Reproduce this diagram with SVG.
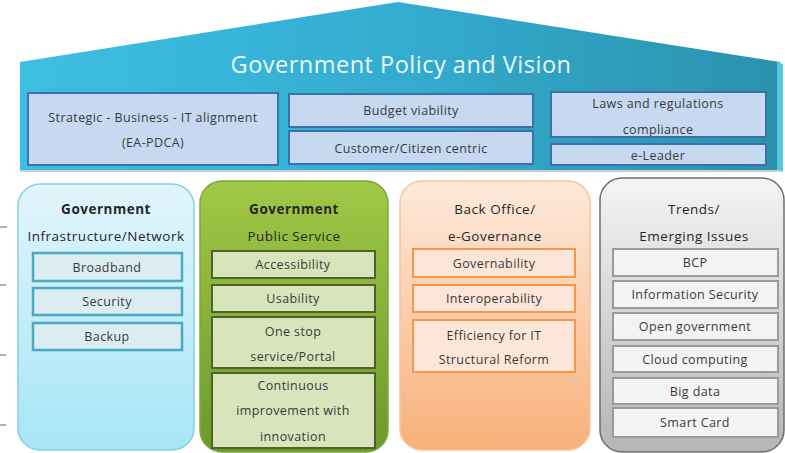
<svg xmlns="http://www.w3.org/2000/svg" width="785" height="453" viewBox="0 0 785 453">
<defs>
<linearGradient id="roofG" x1="0" y1="0" x2="1" y2="0">
<stop offset="0" stop-color="#3cbfe2"/><stop offset="0.5" stop-color="#34acd0"/><stop offset="1" stop-color="#2a92ab"/>
</linearGradient>
<linearGradient id="p1G" x1="0" y1="0" x2="0" y2="1"><stop offset="0" stop-color="#e2f5fb"/><stop offset="1" stop-color="#a6e5f7"/></linearGradient>
<linearGradient id="p2G" x1="0" y1="0" x2="0" y2="1"><stop offset="0" stop-color="#a0c847"/><stop offset="1" stop-color="#6a9a2a"/></linearGradient>
<linearGradient id="p3G" x1="0" y1="0" x2="0" y2="1"><stop offset="0" stop-color="#fdeadb"/><stop offset="1" stop-color="#f8b07a"/></linearGradient>
<linearGradient id="p4G" x1="0" y1="0" x2="0" y2="1"><stop offset="0" stop-color="#f4f4f4"/><stop offset="1" stop-color="#b5b5b5"/></linearGradient>
</defs>
<style>
text{font-family:"Open Sans","Liberation Sans",sans-serif;text-anchor:middle;fill:#3a3a3a;font-size:12.5px;letter-spacing:0.4px}
.title{fill:#eaf7fb;font-size:23.5px;letter-spacing:0.5px}
.hd{fill:#262626;font-size:13.5px;letter-spacing:0.5px}
.rb{fill:#c6d9f1;stroke:#3d6fae;stroke-width:2}
.b1{fill:#dcedf2;stroke:#4aa9c4;stroke-width:2.5}
.b2{fill:#d8e4bc;stroke:#4f6228;stroke-width:2}
.b3{fill:#fce6d8;stroke:#f7964a;stroke-width:2}
.b4{fill:#f3f3f3;stroke:#9a9a9a;stroke-width:2}
.tick{stroke:#9a9a9a;stroke-width:1.5}
</style>
<rect width="785" height="453" fill="#ffffff"/>
<g id="ticks">
<line class="tick" x1="0" y1="227" x2="7" y2="227" stroke="#333"/>
<line class="tick" x1="0" y1="285" x2="6" y2="285"/>
<line class="tick" x1="0" y1="355" x2="6" y2="355"/>
<line class="tick" x1="0" y1="425" x2="6" y2="425"/>
</g>
<g id="roof">
<polygon points="20,62 398,2 780,62 780,170 20,170" fill="url(#roofG)"/>
<polygon points="777,62 783,64 783,172 777,170" fill="#5cc8e0"/>
<line x1="20" y1="171" x2="780" y2="171" stroke="#bdbdbd" stroke-width="1.5"/>
<text class="title" x="401" y="73">Government Policy and Vision</text>
</g>
<g id="roof-strategic">
<rect class="rb" x="28" y="93" width="250" height="72"/>
<text x="153" y="122">Strategic -  Business - IT alignment</text>
<text x="153" y="147">(EA-PDCA)</text>
</g>
<g id="roof-budget">
<rect class="rb" x="289" y="94" width="244" height="33"/>
<text x="411" y="115">Budget viability</text>
</g>
<g id="roof-customer">
<rect class="rb" x="289" y="131" width="244" height="33"/>
<text x="411" y="153">Customer/Citizen centric</text>
</g>
<g id="roof-laws">
<rect class="rb" x="551" y="92" width="215" height="45"/>
<text x="658" y="108">Laws and regulations</text>
<text x="658" y="134">compliance</text>
</g>
<g id="roof-eleader">
<rect class="rb" x="551" y="144" width="215" height="21"/>
<text x="658" y="160">e-Leader</text>
</g>
<g id="pillar-infra">
<rect x="18" y="184" width="176" height="266" rx="22" fill="url(#p1G)" stroke="#86cfe6" stroke-width="1.5"/>
<text class="hd" x="106" y="214" font-weight="bold">Government</text>
<text class="hd" x="106" y="241">Infrastructure/Network</text>
<rect class="b1" x="33" y="253" width="149" height="28"/><text x="107" y="272">Broadband</text>
<rect class="b1" x="33" y="288" width="149" height="27"/><text x="107" y="306">Security</text>
<rect class="b1" x="33" y="323" width="149" height="27"/><text x="107" y="341">Backup</text>
</g>
<g id="pillar-public">
<rect x="200" y="181" width="188" height="271" rx="22" fill="url(#p2G)" stroke="#7ea83c" stroke-width="1.5"/>
<text class="hd" x="294" y="214" font-weight="bold">Government</text>
<text class="hd" x="294" y="241">Public Service</text>
<rect class="b2" x="212" y="251" width="163" height="27"/><text x="293" y="269">Accessibility</text>
<rect class="b2" x="212" y="285" width="163" height="27"/><text x="293" y="303">Usability</text>
<rect class="b2" x="212" y="317" width="163" height="51"/><text x="293" y="336">One stop</text><text x="293" y="361">service/Portal</text>
<rect class="b2" x="212" y="373" width="163" height="75"/><text x="293" y="390">Continuous</text><text x="293" y="415">improvement with</text><text x="293" y="441">innovation</text>
</g>
<g id="pillar-backoffice">
<rect x="400" y="181" width="190" height="269" rx="22" fill="url(#p3G)" stroke="#f9c49a" stroke-width="1.5"/>
<text class="hd" x="495" y="214">Back Office/</text>
<text class="hd" x="495" y="241">e-Governance</text>
<rect class="b3" x="413" y="249" width="162" height="28"/><text x="494" y="268">Governability</text>
<rect class="b3" x="413" y="285" width="162" height="27"/><text x="494" y="303">Interoperability</text>
<rect class="b3" x="413" y="320" width="162" height="52"/><text x="494" y="340">Efficiency for IT</text><text x="494" y="364">Structural Reform</text>
</g>
<g id="pillar-trends">
<rect x="600" y="178" width="184" height="274" rx="22" fill="url(#p4G)" stroke="#6f6f6f" stroke-width="1.5"/>
<text class="hd" x="694" y="214">Trends/</text>
<text class="hd" x="694" y="241">Emerging Issues</text>
<rect class="b4" x="613" y="249" width="165" height="27"/><text x="695" y="267">BCP</text>
<rect class="b4" x="613" y="281" width="165" height="27"/><text x="695" y="299">Information Security</text>
<rect class="b4" x="613" y="313" width="165" height="27"/><text x="695" y="331">Open government</text>
<rect class="b4" x="613" y="346" width="165" height="26"/><text x="695" y="364">Cloud computing</text>
<rect class="b4" x="613" y="378" width="165" height="26"/><text x="695" y="396">Big data</text>
<rect class="b4" x="613" y="408" width="165" height="29"/><text x="695" y="427">Smart Card</text>
</g>
</svg>
